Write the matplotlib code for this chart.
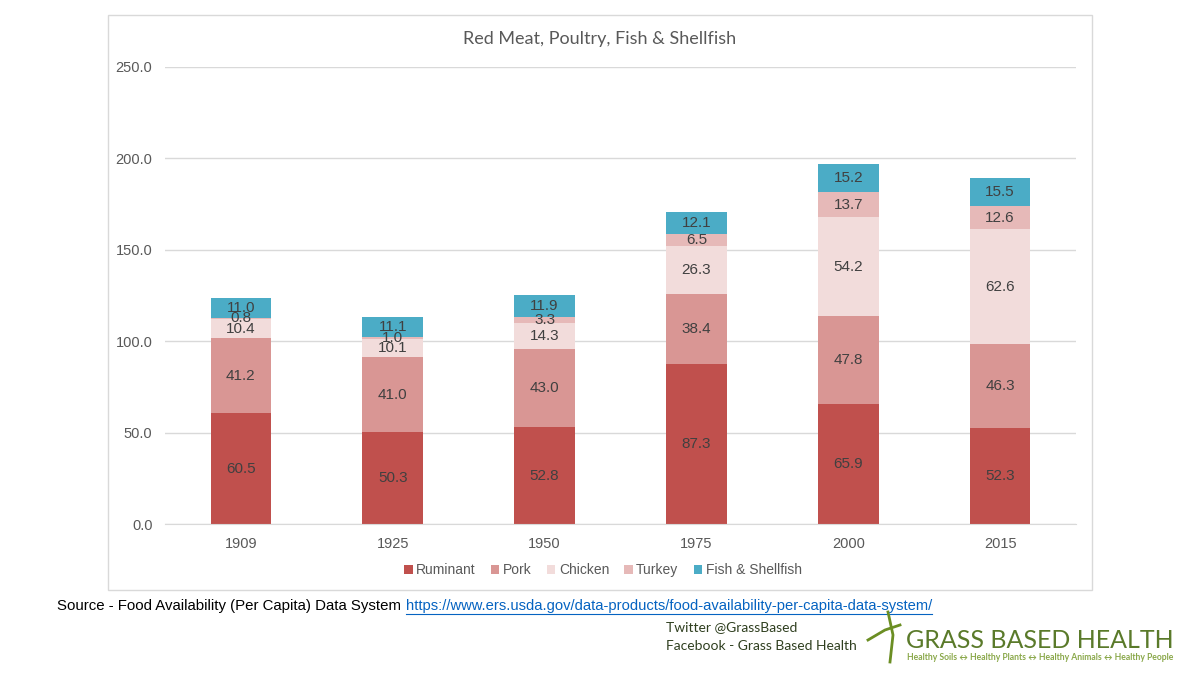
import numpy as np
import matplotlib.pyplot as plt
from matplotlib.patches import Rectangle

years = ['1909', '1925', '1950', '1975', '2000', '2015']
ruminant = [60.5, 50.3, 52.8, 87.3, 65.9, 52.3]
pork = [41.2, 41.0, 43.0, 38.4, 47.8, 46.3]
chicken = [10.4, 10.1, 14.3, 26.3, 54.2, 62.6]
turkey = [0.8, 1.0, 3.3, 6.5, 13.7, 12.6]
fish = [11.0, 11.1, 11.9, 12.1, 15.2, 15.5]

series = [('Ruminant', ruminant, '#C0504D'),
          ('Pork', pork, '#D99694'),
          ('Chicken', chicken, '#F2DCDB'),
          ('Turkey', turkey, '#E6B9B8'),
          ('Fish & Shellfish', fish, '#4BACC6')]

plt.rcParams['font.family'] = ['Liberation Sans', 'DejaVu Sans']

fig = plt.figure(figsize=(12, 6.75), dpi=100)

# chart frame
fig.patches.append(Rectangle((108/1200, 1-590/675), 984/1200, 575/675,
                             transform=fig.transFigure, fill=False,
                             edgecolor='#D9D9D9', lw=1))

ax = fig.add_axes([165/1200, 1-524/675, 911/1200, 457/675])
x = np.arange(len(years))
bottom = np.zeros(len(years))
for name, vals, col in series:
    vals = np.array(vals)
    ax.bar(x, vals, 0.4, bottom=bottom, color=col, label=name, zorder=2)
    for xi, b, v in zip(x, bottom, vals):
        ax.text(xi, b + v/2, f'{v:.1f}', ha='center', va='center',
                fontsize=11, color='#404040', zorder=3)
    bottom += vals

ax.set_ylim(0, 250)
ax.set_xlim(-0.5, len(years) - 0.5)
ax.set_yticks(np.arange(0, 251, 50))
ax.set_yticklabels([f'{v:.1f}' for v in np.arange(0, 251, 50)])
ax.set_xticks(x)
ax.set_xticklabels(years)
ax.grid(axis='y', color='#D9D9D9', lw=1, zorder=0)
for s in ['top', 'right', 'left']:
    ax.spines[s].set_visible(False)
ax.spines['bottom'].set_color('#D9D9D9')
ax.tick_params(length=0, labelsize=10.5, colors='#595959', pad=9)

fig.text(600/1200, 1-39/675, 'Red Meat, Poultry, Fish & Shellfish',
         ha='center', va='center', fontsize=13, color='#595959',
         family=['Lato', 'DejaVu Sans'])

fig.legend(loc='center', bbox_to_anchor=(603/1200, 1-570/675), ncol=5,
           frameon=False, fontsize=10, handlelength=0.6, handleheight=0.6,
           handletextpad=0.25, columnspacing=1.1, labelcolor='#595959')

# source line
fig.text(57/1200, 1-606/675, 'Source - Food Availability (Per Capita) Data System',
         ha='left', va='center', fontsize=10.8, color='black')
link = fig.text(406/1200, 1-606/675,
                'https://www.ers.usda.gov/data-products/food-availability-per-capita-data-system/',
                ha='left', va='center', fontsize=10.6, color='#0563C1')
fig.canvas.draw()
bb = link.get_window_extent().transformed(fig.transFigure.inverted())
fig.add_artist(plt.Line2D([bb.x0, bb.x1], [1-614/675, 1-614/675],
                          transform=fig.transFigure, color='#0563C1', lw=0.8))

fig.text(666/1200, 1-627/675, 'Twitter @GrassBased', ha='left', va='center',
         fontsize=10, color='#2F3F1F', family=['Lato', 'DejaVu Sans'])
fig.text(666/1200, 1-646/675, 'Facebook - Grass Based Health', ha='left', va='center',
         fontsize=10, color='#2F3F1F', family=['Lato', 'DejaVu Sans'])

fig.text(906/1200, 1-641/675, 'GRASS BASED HEALTH', ha='left', va='center',
         fontsize=18, color='#5A7A2A', family=['Lato', 'DejaVu Sans'])
fig.text(907/1200, 1-658/675,
         'Healthy Soils \u2194 Healthy Plants \u2194 Healthy Animals \u2194 Healthy People',
         ha='left', va='center', fontsize=6.2, color='#8AA84A', fontweight='bold',
         family=['Lato', 'DejaVu Sans'])
# simple plant mark
fig.add_artist(plt.Line2D([890/1200, 893/1200, 888/1200], [1-662/675, 1-635/675, 1-612/675],
                          transform=fig.transFigure, color='#6B8E23', lw=2))
fig.add_artist(plt.Line2D([868/1200, 885/1200, 900/1200], [1-640/675, 1-630/675, 1-625/675],
                          transform=fig.transFigure, color='#6B8E23', lw=2))

fig.savefig('out.png', dpi=100)
